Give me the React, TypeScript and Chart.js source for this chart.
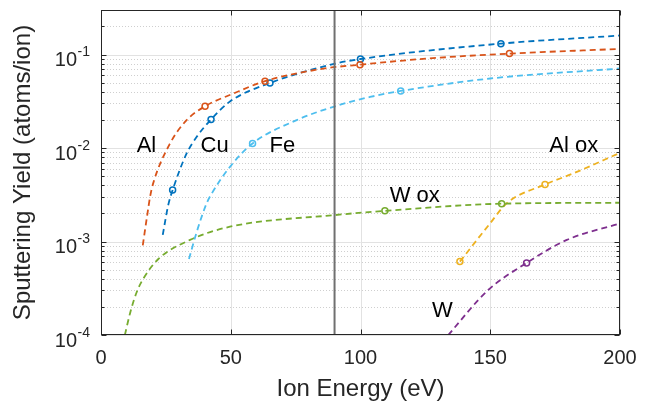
import React, { useEffect, useRef } from "react";
import { Chart, registerables } from "chart.js";

Chart.register(...registerables);

const FONT = '"Liberation Sans", Arial, Helvetica, sans-serif';

// [ion energy (eV), sputtering yield (atoms/ion)]
const alCurve: [number, number][] = [
  [16.1, 9.1e-4], [18.2, 2.26e-3], [18.9, 3.0e-3], [20.1, 4.19e-3], [26.6, 0.0112],
  [33.0, 0.0199], [40.1, 0.028], [51.0, 0.0383], [63.2, 0.052], [85.7, 0.0708],
  [99.8, 0.078], [125.5, 0.0906], [157.4, 0.1025], [200, 0.115],
];
const alMarkers: [number, number][] = [[40.1, 0.028], [63.2, 0.052], [99.8, 0.078], [157.4, 0.1025]];

const cuCurve: [number, number][] = [
  [23.8, 1.18e-3], [25.9, 2.45e-3], [27.6, 3.55e-3], [33.0, 8.75e-3], [36.9, 0.0132],
  [42.4, 0.0202], [49.7, 0.0315], [65.1, 0.0497], [90.2, 0.080], [100, 0.0897],
  [154.1, 0.131], [200, 0.16],
];
const cuMarkers: [number, number][] = [[27.6, 3.55e-3], [42.4, 0.0202], [65.1, 0.0497], [100, 0.0897], [154.1, 0.131]];

const feCurve: [number, number][] = [
  [33.9, 6.5e-4], [36.9, 1.27e-3], [40.7, 2.56e-3], [42.7, 3.27e-3], [49.7, 6.3e-3],
  [58.4, 0.0112], [75.4, 0.0199], [90.2, 0.028], [103.7, 0.0352], [115.5, 0.0408],
  [150, 0.0555], [200, 0.071],
];
const feMarkers: [number, number][] = [[58.4, 0.0112], [115.5, 0.0408]];

const wOxCurve: [number, number][] = [
  [9.2, 1e-4], [11.2, 1.71e-4], [13.7, 2.85e-4], [16.3, 4.0e-4], [22.1, 6.5e-4],
  [34.3, 1.04e-3], [49.7, 1.44e-3], [90.2, 1.92e-3], [109.4, 2.13e-3], [154.4, 2.54e-3],
  [200, 2.6e-3],
];
const wOxMarkers: [number, number][] = [[109.4, 2.13e-3], [154.4, 2.54e-3]];

const alOxCurve: [number, number][] = [
  [138.3, 6.1e-4], [149.9, 1.56e-3], [156.3, 2.56e-3], [171.1, 4.08e-3], [182, 5.36e-3], [200, 8.9e-3],
];
const alOxMarkers: [number, number][] = [[138.3, 6.1e-4], [171.1, 4.08e-3]];

const wCurve: [number, number][] = [
  [133.8, 1e-4], [149.2, 3.03e-4], [164, 5.9e-4], [179.5, 1.04e-3], [200, 1.56e-3],
];
const wMarkers: [number, number][] = [[164, 5.9e-4]];

const thresholdEnergy = 90;

// axis ticks
const xTicks = [0, 50, 100, 150, 200];
const yMajorTicks = [1e-4, 1e-3, 1e-2, 1e-1];
const yTickExponents = ["-4", "-3", "-2", "-1"];
const yMinorMultipliers = [2, 3, 4, 5, 6, 7, 8, 9];
const Y_MIN = 1e-4;
const Y_MAX = 0.3;

// in-plot curve labels (data coordinates)
const curveLabels = ["Al", "Cu", "Fe", "W ox", "Al ox", "W"];
const curveLabelX = [17.5, 43.8, 69.9, 120.9, 182.2, 131.6];
const curveLabelY = [0.00898, 0.00898, 0.00898, 2.66e-3, 9.1e-3, 1.55e-4];

const series = [
  { curve: alCurve, markers: alMarkers, color: "#D95319" },
  { curve: cuCurve, markers: cuMarkers, color: "#0072BD" },
  { curve: feCurve, markers: feMarkers, color: "#4DBEEE" },
  { curve: wOxCurve, markers: wOxMarkers, color: "#77AC30" },
  { curve: alOxCurve, markers: alOxMarkers, color: "#EDB120" },
  { curve: wCurve, markers: wMarkers, color: "#7E2F8E" },
];

const toXY = (arr: [number, number][]) => arr.map(([x, y]) => ({ x, y }));

const decorPlugin = {
  id: "decor",
  beforeDatasetsDraw(chart: any) {
    const { ctx, chartArea, scales } = chart;
    const { left, right, top, bottom } = chartArea;
    const x = scales.x;
    const y = scales.y;
    ctx.save();
    ctx.lineWidth = 1;
    // minor y grid (dotted)
    ctx.strokeStyle = "#cfcfcf";
    ctx.setLineDash([1, 2]);
    for (const d of yMajorTicks) {
      for (const m of yMinorMultipliers) {
        const v = d * m;
        if (v > Y_MAX * 1.0001) continue;
        const py = Math.round(y.getPixelForValue(v)) + 0.5;
        ctx.beginPath();
        ctx.moveTo(left, py);
        ctx.lineTo(right, py);
        ctx.stroke();
      }
    }
    // major grid
    ctx.setLineDash([]);
    ctx.strokeStyle = "#e2e2e2";
    for (const v of yMajorTicks) {
      const py = Math.round(y.getPixelForValue(v)) + 0.5;
      ctx.beginPath();
      ctx.moveTo(left, py);
      ctx.lineTo(right, py);
      ctx.stroke();
    }
    for (const v of xTicks) {
      const px = Math.round(x.getPixelForValue(v)) + 0.5;
      ctx.beginPath();
      ctx.moveTo(px, top);
      ctx.lineTo(px, bottom);
      ctx.stroke();
    }
    ctx.restore();
  },
  afterDatasetsDraw(chart: any) {
    const { ctx, chartArea, scales } = chart;
    const { left, right, top, bottom } = chartArea;
    const x = scales.x;
    const y = scales.y;
    ctx.save();
    const L = Math.round(left) + 0.5;
    const R = Math.round(right) - 0.5;
    const T = Math.round(top) + 0.5;
    const B = Math.round(bottom) - 0.5;
    ctx.strokeStyle = "#262626";
    ctx.lineWidth = 1;
    // ticks
    ctx.beginPath();
    for (const v of xTicks) {
      const px = Math.round(x.getPixelForValue(v)) + 0.5;
      ctx.moveTo(px, B);
      ctx.lineTo(px, B - 5);
      ctx.moveTo(px, T);
      ctx.lineTo(px, T + 5);
    }
    for (const v of yMajorTicks) {
      const py = Math.round(y.getPixelForValue(v)) + 0.5;
      ctx.moveTo(L, py);
      ctx.lineTo(L + 5, py);
      ctx.moveTo(R, py);
      ctx.lineTo(R - 5, py);
    }
    for (const d of yMajorTicks) {
      for (const m of yMinorMultipliers) {
        const v = d * m;
        if (v > Y_MAX * 1.0001) continue;
        const py = Math.round(y.getPixelForValue(v)) + 0.5;
        ctx.moveTo(L, py);
        ctx.lineTo(L + 3, py);
        ctx.moveTo(R, py);
        ctx.lineTo(R - 3, py);
      }
    }
    ctx.stroke();
    // box
    ctx.strokeRect(L, T, R - L, B - T);

    // y tick labels 10^n
    ctx.fillStyle = "#262626";
    ctx.textBaseline = "alphabetic";
    yMajorTicks.forEach((v, i) => {
      const py = y.getPixelForValue(v);
      ctx.font = `20px ${FONT}`;
      ctx.textAlign = "right";
      ctx.fillText("10", left - 24, py + 11.7);
      ctx.font = `14px ${FONT}`;
      ctx.textAlign = "left";
      ctx.fillText(yTickExponents[i], left - 23.5, py + 1.7);
    });

    // curve labels
    ctx.fillStyle = "#000000";
    ctx.font = `22px ${FONT}`;
    ctx.textAlign = "center";
    curveLabels.forEach((t, i) => {
      ctx.fillText(t, x.getPixelForValue(curveLabelX[i]), y.getPixelForValue(curveLabelY[i]));
    });
    ctx.restore();
  },
};

export default function App() {
  const canvasRef = useRef<HTMLCanvasElement | null>(null);

  useEffect(() => {
    if (!canvasRef.current) return;
    const datasets: any[] = [];
    datasets.push({
      data: [{ x: thresholdEnergy, y: Y_MIN }, { x: thresholdEnergy, y: Y_MAX }],
      borderColor: "#707070",
      borderWidth: 2,
      pointRadius: 0,
      fill: false,
    });
    for (const s of series) {
      datasets.push({
        data: toXY(s.curve),
        borderColor: s.color,
        borderWidth: 1.8,
        borderDash: [6, 4],
        pointRadius: 0,
        cubicInterpolationMode: "monotone",
        fill: false,
      });
      datasets.push({
        data: toXY(s.markers),
        showLine: false,
        borderColor: s.color,
        pointBorderColor: s.color,
        pointBackgroundColor: "rgba(255,255,255,0)",
        pointRadius: 3,
        pointBorderWidth: 1.5,
        pointStyle: "circle",
      });
    }

    const chart = new Chart(canvasRef.current, {
      type: "line",
      data: { datasets },
      options: {
        animation: false,
        responsive: true,
        maintainAspectRatio: false,
        layout: { padding: { top: 10, right: 31, left: 0, bottom: 0 } },
        plugins: { legend: { display: false }, tooltip: { enabled: false } },
        scales: {
          x: {
            type: "linear",
            min: 0,
            max: 200,
            afterBuildTicks: (scale: any) => {
              scale.ticks = xTicks.map((v) => ({ value: v }));
            },
            ticks: {
              font: { family: FONT, size: 20 },
              color: "#262626",
              padding: 11,
              maxRotation: 0,
            },
            grid: { display: false, drawTicks: false },
            border: { display: false },
            title: {
              display: true,
              text: "Ion Energy (eV)",
              font: { family: FONT, size: 24 },
              color: "#262626",
              padding: { top: 0, bottom: 1 },
            },
            afterFit: (scale: any) => {
              scale.height = 70;
            },
          },
          y: {
            type: "logarithmic",
            min: Y_MIN,
            max: Y_MAX,
            ticks: { display: false },
            grid: { display: false, drawTicks: false },
            border: { display: false },
            title: {
              display: true,
              text: "Sputtering Yield (atoms/ion)",
              font: { family: FONT, size: 24 },
              color: "#262626",
              padding: { top: 9, bottom: 0 },
            },
            afterFit: (scale: any) => {
              scale.width = 101;
            },
          },
        },
      },
      plugins: [decorPlugin],
    } as any);
    return () => chart.destroy();
  }, []);

  return (
    <div style={{ position: "fixed", left: 0, top: 0, width: 651, height: 405, background: "#fff" }}>
      <canvas ref={canvasRef} />
    </div>
  );
}
